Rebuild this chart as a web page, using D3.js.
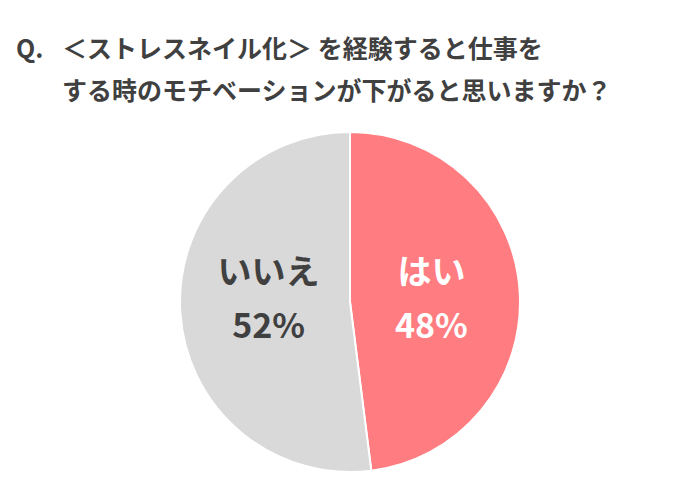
<!DOCTYPE html>
<html><head><meta charset="utf-8">
<script src="https://cdn.jsdelivr.net/npm/d3@7"></script>
<style>body{margin:0;background:#fff}</style>
</head><body>
<svg id="c" width="695" height="498"></svg>
<script>
var labels = ["はい", "いいえ"];
var values = [48, 52];
var colors = ["#FF7C80", "#D9D9D9"];
var textColors = ["#FFFFFF", "#404040"];

var svg = d3.select("#c");
var font = "'Noto Sans CJK JP', sans-serif";

// title
var t = svg.append("g").attr("fill", "#404040").attr("font-family", font)
  .attr("font-weight", "bold").attr("font-size", 25);
t.append("text").attr("x", 16).attr("y", 58).text("Q.");
t.append("text").attr("x", 62).attr("y", 58).text("＜ストレスネイル化＞ を経験すると仕事を");
t.append("text").attr("x", 62).attr("y", 100).text("する時のモチベーションが下がると思いますか？");

var cx = 350, cy = 302, r = 170;
var pie = d3.pie().sort(null).value(d => d)(values);
var arc = d3.arc().innerRadius(0).outerRadius(r);
var g = svg.append("g").attr("transform", "translate(" + cx + "," + cy + ")");
g.selectAll("path").data(pie).enter().append("path")
  .attr("d", arc).attr("fill", (d, i) => colors[i])
  .attr("stroke", "#fff").attr("stroke-width", 2);

var lab = d3.arc().innerRadius(r * 0.48).outerRadius(r * 0.48);
pie.forEach(function (d, i) {
  var p = lab.centroid(d);
  var tx = g.append("text").attr("text-anchor", "middle")
    .attr("font-family", font).attr("font-weight", "bold").attr("font-size", 34)
    .attr("fill", textColors[i]);
  tx.append("tspan").attr("x", p[0]).attr("y", -18).text(labels[i]);
  tx.append("tspan").attr("x", p[0]).attr("y", 36).text(values[i] + "%");
});
</script>
</body></html>
